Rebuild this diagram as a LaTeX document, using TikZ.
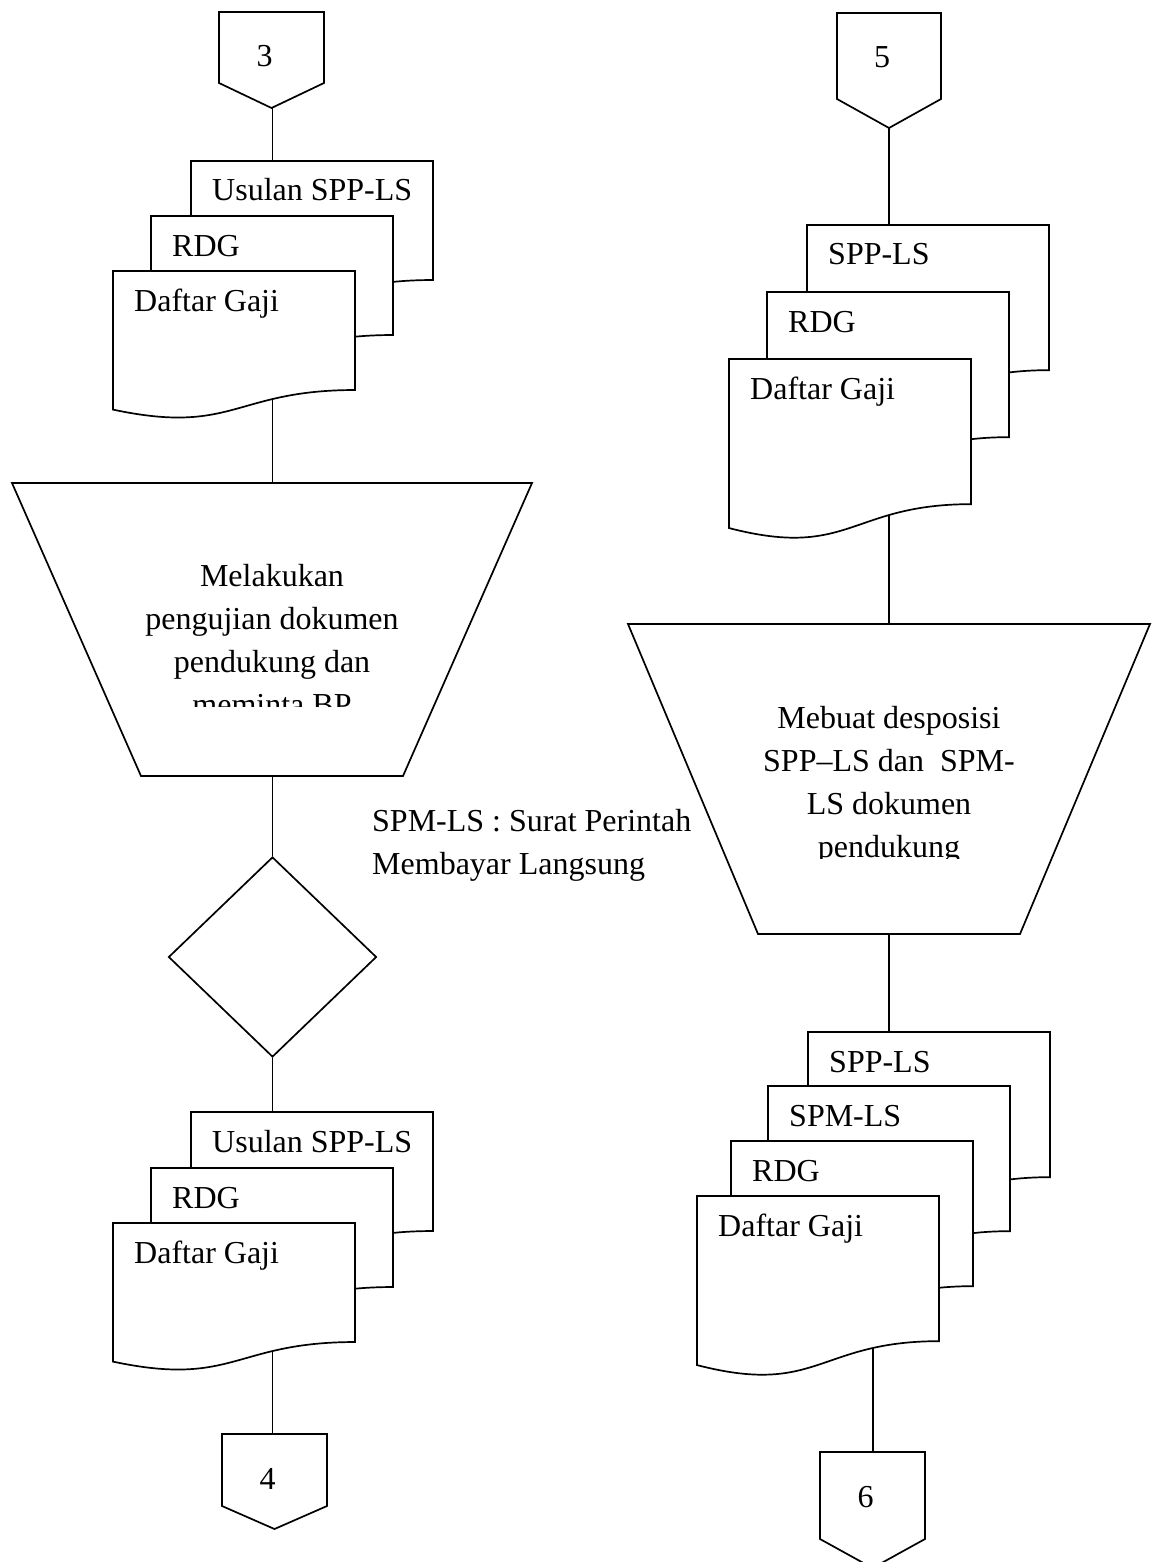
\documentclass[tikz,border=0pt]{standalone}
\usepackage{fontspec}
\setmainfont{Liberation Serif}
\usetikzlibrary{shapes.geometric}
\pgfdeclarelayer{background}
\pgfsetlayers{background,main}
\tikzset{
  outline/.style={draw=black, line width=1.7pt, fill=white, line join=miter},
  conn/.style={draw=black, line width=1.7pt},
  doctext/.style={font=\fontsize{32}{43}\selectfont, inner sep=0pt, anchor=base west},
  bodytext/.style={font=\fontsize{32}{43}\selectfont, inner sep=0pt, align=center, anchor=base},
}
% off-page connector: name, left, right, top, shoulder, tip, label
\newcommand{\offpage}[7]{%
  \draw[outline] (#2,#4) -- (#3,#4) -- (#3,#5) -- ({(#2+#3)/2},#6) -- (#2,#5) -- cycle;
  \node[bodytext] (#1) at ({(#2+#3)/2-7},{#4+55}) {#7};
}
% document sheet with wavy bottom: name, left, top, height, label
\newcommand{\docsheet}[5]{%
  \draw[outline] (#2,#3) -- ({#2+242},#3) -- ({#2+242},{#3+0.802*#4})
    .. controls ({#2+121},{#3+0.802*#4}) and ({#2+121},{#3+1.1075*#4}) .. (#2,{#3+0.934*#4}) -- cycle;
  \node[doctext] (#1) at ({#2+21},{#3+40}) {#5};
}
\begin{document}
\begin{tikzpicture}[x=1pt,y=-1pt]
\useasboundingbox (0,0) rectangle (1152,1562);

% ---------- left column ----------
\offpage{n3}{219}{324}{12}{83}{108}{3}
\coordinate (k3) at (272.5,60);

\docsheet{a1}{191}{161}{148.4}{Usulan SPP-LS}
\docsheet{a2}{151}{216}{148.4}{RDG}
\docsheet{a3}{113}{271}{148.4}{Daftar Gaji}
\coordinate (sa) at (272.5,330);

\draw[outline] (12,483) -- (532,483) -- (403,776) -- (141,776) -- cycle;
\coordinate (tra) at (272.5,630);
% the text frame cuts the last line
\begin{scope}
  \clip (0,483) rectangle (576,706);
  \node[bodytext] (ta) at (272,715) {Melakukan\\pengujian dokumen\\pendukung dan\\meminta BP};
\end{scope}

\node[diamond, outline, minimum width=208pt, minimum height=200pt, inner sep=0pt] (dec) at (272.5,957) {};

\docsheet{b1}{191}{1112}{148.4}{Usulan SPP-LS}
\docsheet{b2}{151}{1168}{148.4}{RDG}
\docsheet{b3}{113}{1223}{148.4}{Daftar Gaji}
\coordinate (sb) at (272.5,1280);

\offpage{n4}{222}{327}{1434}{1506}{1529}{4}
\coordinate (k4) at (272.5,1480);

\node[doctext, align=left] (note) at (372,874) {SPM-LS : Surat Perintah\\Membayar Langsung};

% ---------- right column ----------
\offpage{n5}{837}{941}{13}{99}{128}{5}
\coordinate (k5) at (889,60);

\docsheet{c1}{807}{225}{181}{SPP-LS}
\docsheet{c2}{767}{292}{181}{RDG}
\docsheet{c3}{729}{359}{181}{Daftar Gaji}
\coordinate (sc) at (889,420);

\draw[outline] (628,624) -- (1150,624) -- (1020,934) -- (758,934) -- cycle;
\coordinate (trc) at (889,780);
% the text frame cuts the last line
\begin{scope}
  \clip (576,624) rectangle (1152,858);
  \node[bodytext] (tc) at (889,857) {Mebuat desposisi\\SPP–LS dan\ \ SPM-\\LS dokumen\\pendukung};
\end{scope}

\docsheet{d1}{808}{1032}{181}{SPP-LS}
\docsheet{d2}{768}{1086}{181}{SPM-LS}
\docsheet{d3}{731}{1141}{181}{RDG}
\docsheet{d4}{697}{1196}{181}{Daftar Gaji}
\coordinate (sdin) at (889,1100);
\coordinate (sdout) at (873,1300);

\offpage{n6}{820}{925}{1452}{1539}{1568}{6}
\coordinate (k6) at (873,1500);

% ---------- connectors, kept behind the shapes ----------
\begin{pgfonlayer}{background}
  \fill[white] (0,0) rectangle (1152,1562);
  \draw[conn] (k3) -- (sa);
  \draw[conn] (sa) -- (tra);
  \draw[conn] (tra) -- (dec);
  \draw[conn] (dec) -- (sb);
  \draw[conn] (sb) -- (k4);
  \draw[conn] (k5) -- (sc);
  \draw[conn] (sc) -- (trc);
  \draw[conn] (trc) -- (sdin);
  \draw[conn] (sdout) -- (k6);
\end{pgfonlayer}
\end{tikzpicture}
\end{document}
